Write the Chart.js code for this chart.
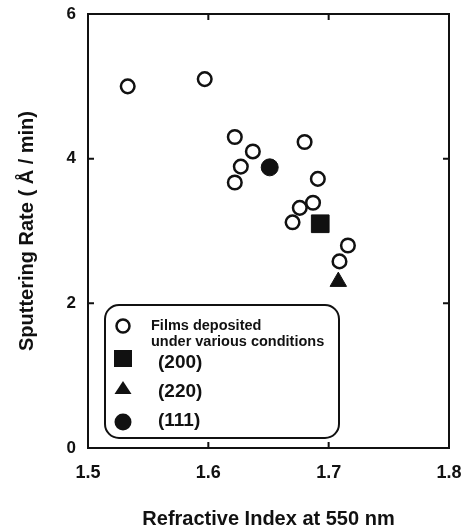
<!DOCTYPE html>
<html>
<head>
<meta charset="utf-8">
<script src="https://cdn.jsdelivr.net/npm/chart.js@4"></script>
<style>
  html, body { margin: 0; padding: 0; background: #fff; }
  #wrap { width: 468px; height: 528px; }
</style>
</head>
<body>
<div id="wrap"><canvas id="sputterChart"></canvas></div>
<script>
// refractive index / sputtering rate
const filmsX = [1.533, 1.597, 1.622, 1.680, 1.637, 1.627, 1.622, 1.691, 1.687, 1.676, 1.670, 1.716, 1.709];
const filmsY = [5.00, 5.10, 4.30, 4.23, 4.10, 3.89, 3.67, 3.72, 3.39, 3.32, 3.12, 2.80, 2.58];
const x200 = [1.693], y200 = [3.10];
const x220 = [1.708], y220 = [2.30];
const x111 = [1.651], y111 = [3.88];

const xTicks = [1.5, 1.6, 1.7, 1.8];
const yTicks = [0, 2, 4, 6];
const legendLabels = ["Films deposited", "under various conditions", "(200)", "(220)", "(111)"];

const FONT = "'Liberation Sans', Arial, sans-serif";
const INK = "#111";

function pts(xs, ys) {
  return xs.map((x, i) => ({ x: x, y: ys[i] }));
}

// frame, inward ticks and the rounded legend box
const framePlugin = {
  id: "frame",
  afterDraw(chart) {
    const ctx = chart.ctx;
    const a = chart.chartArea;
    const xs = chart.scales.x, ys = chart.scales.y;
    ctx.save();
    ctx.strokeStyle = INK;
    ctx.lineWidth = 2;
    ctx.strokeRect(a.left, a.top, a.right - a.left, a.bottom - a.top);

    const len = 6;
    ctx.beginPath();
    xTicks.slice(1, -1).forEach(v => {
      const px = xs.getPixelForValue(v);
      ctx.moveTo(px, a.bottom); ctx.lineTo(px, a.bottom - len);
      ctx.moveTo(px, a.top); ctx.lineTo(px, a.top + len);
    });
    yTicks.slice(1, -1).forEach(v => {
      const py = ys.getPixelForValue(v);
      ctx.moveTo(a.left, py); ctx.lineTo(a.left + len, py);
      ctx.moveTo(a.right, py); ctx.lineTo(a.right - len, py);
    });
    ctx.stroke();

    // legend
    const bx = a.left + 17, by = a.top + 291, bw = 234, bh = 133;
    ctx.beginPath();
    ctx.roundRect(bx, by, bw, bh, 14);
    ctx.fillStyle = "#fff";
    ctx.fill();
    ctx.lineWidth = 2;
    ctx.stroke();

    const mx = bx + 18;
    ctx.fillStyle = INK;
    // open circle
    ctx.beginPath();
    ctx.arc(mx, by + 21, 6.5, 0, Math.PI * 2);
    ctx.lineWidth = 2.5;
    ctx.stroke();
    // square
    ctx.fillRect(mx - 9, by + 45, 18, 17);
    // triangle
    ctx.beginPath();
    ctx.moveTo(mx, by + 76);
    ctx.lineTo(mx + 8.5, by + 89);
    ctx.lineTo(mx - 8.5, by + 89);
    ctx.closePath();
    ctx.fill();
    // filled circle
    ctx.beginPath();
    ctx.arc(mx, by + 117, 8.5, 0, Math.PI * 2);
    ctx.fill();

    ctx.textBaseline = "middle";
    ctx.textAlign = "left";
    ctx.font = "bold 14.5px " + FONT;
    ctx.fillText(legendLabels[0], bx + 46, by + 21);
    ctx.fillText(legendLabels[1], bx + 46, by + 37);
    ctx.font = "bold 19px " + FONT;
    ctx.fillText(legendLabels[2], bx + 53, by + 58);
    ctx.fillText(legendLabels[3], bx + 53, by + 87);
    ctx.fillText(legendLabels[4], bx + 53, by + 116);
    ctx.restore();
  }
};

new Chart(document.getElementById("sputterChart"), {
  type: "scatter",
  data: {
    datasets: [
      {
        label: "Films deposited under various conditions",
        data: pts(filmsX, filmsY),
        pointStyle: "circle",
        pointRadius: 6.8,
        pointBorderWidth: 2.5,
        borderColor: INK,
        backgroundColor: "#fff"
      },
      {
        label: "(200)",
        data: pts(x200, y200),
        pointStyle: "rect",
        pointRadius: 12.5,
        borderColor: INK,
        backgroundColor: INK
      },
      {
        label: "(220)",
        data: pts(x220, y220),
        pointStyle: "triangle",
        pointRadius: 9.5,
        borderColor: INK,
        backgroundColor: INK
      },
      {
        label: "(111)",
        data: pts(x111, y111),
        pointStyle: "circle",
        pointRadius: 8.5,
        borderColor: INK,
        backgroundColor: INK
      }
    ]
  },
  options: {
    responsive: true,
    maintainAspectRatio: false,
    animation: false,
    layout: { padding: { top: 14, right: 19, left: 0, bottom: 0 } },
    plugins: {
      legend: { display: false },
      tooltip: { enabled: false }
    },
    scales: {
      x: {
        type: "linear",
        min: 1.5,
        max: 1.8,
        afterBuildTicks(scale) { scale.ticks = xTicks.map(v => ({ value: v })); },
        afterFit(scale) {
          scale.height = 80;
          scale.paddingLeft = 0;
          scale.paddingRight = 0;
        },
        grid: { display: false, drawTicks: false },
        border: { display: false },
        ticks: {
          color: INK,
          padding: 14,
          font: { family: FONT, size: 18, weight: "bold" },
          callback: v => v.toFixed(1)
        },
        title: {
          display: true,
          text: "Refractive Index at 550 nm",
          color: INK,
          font: { family: FONT, size: 20, weight: "bold" },
          padding: { top: 23, bottom: -3 }
        }
      },
      y: {
        min: 0,
        max: 6,
        afterBuildTicks(scale) { scale.ticks = yTicks.map(v => ({ value: v })); },
        afterFit(scale) {
          scale.width = 88;
          scale.paddingTop = 0;
          scale.paddingBottom = 0;
        },
        grid: { display: false, drawTicks: false },
        border: { display: false },
        ticks: {
          color: INK,
          padding: 12,
          font: { family: FONT, size: 17, weight: "bold" }
        },
        title: {
          display: true,
          text: "Sputtering Rate ( Å / min)",
          color: INK,
          font: { family: FONT, size: 20, weight: "bold" },
          padding: { top: 15, bottom: 0 }
        }
      }
    }
  },
  plugins: [framePlugin]
});
</script>
</body>
</html>
